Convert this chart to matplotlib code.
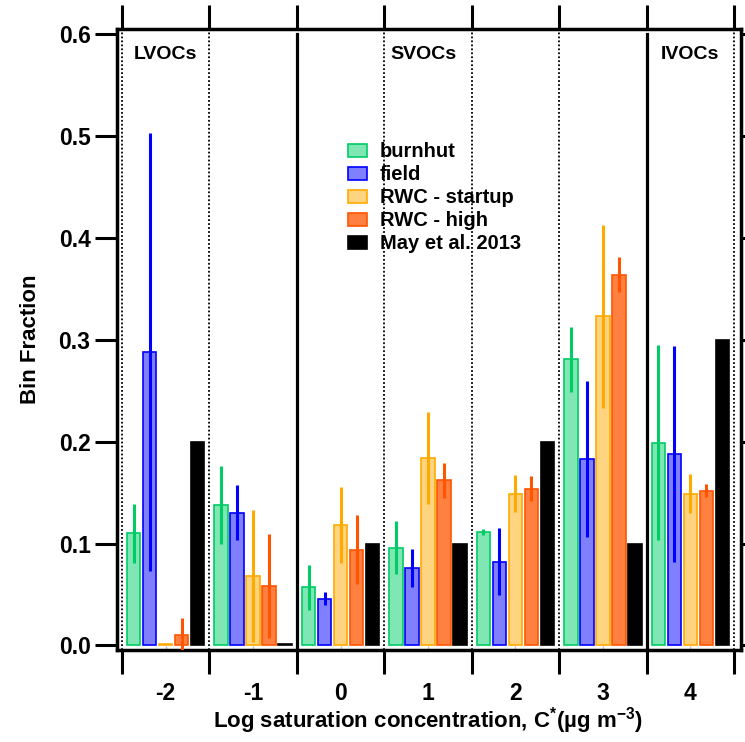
import numpy as np
import matplotlib
matplotlib.use("Agg")
import matplotlib.pyplot as plt
import matplotlib.ticker as mticker
from matplotlib import rcParams

rcParams["font.family"] = ["Liberation Sans", "DejaVu Sans"]
rcParams["font.weight"] = "bold"
rcParams["mathtext.fontset"] = "custom"
rcParams["mathtext.rm"] = "Liberation Sans:bold"
rcParams["mathtext.it"] = "Liberation Sans:bold"
rcParams["mathtext.default"] = "rm"

# ── Volatility bins and bin fractions ───────────────────────────────────────
bins = ["-2", "-1", "0", "1", "2", "3", "4"]
series = ["burnhut", "field", "RWC - startup", "RWC - high", "May et al. 2013"]

burnhut = [0.110, 0.138, 0.057, 0.096, 0.111, 0.281, 0.199]
burnhut_err = [0.029, 0.038, 0.022, 0.026, 0.003, 0.032, 0.096]
field = [0.288, 0.130, 0.046, 0.076, 0.082, 0.183, 0.188]
field_err = [0.215, 0.027, 0.006, 0.019, 0.033, 0.077, 0.106]
rwc_startup = [0.001, 0.068, 0.118, 0.184, 0.149, 0.323, 0.149]
rwc_startup_err = [0.0, 0.065, 0.037, 0.045, 0.018, 0.090, 0.019]
rwc_high = [0.010, 0.058, 0.094, 0.162, 0.154, 0.364, 0.152]
rwc_high_err = [0.017, 0.051, 0.034, 0.017, 0.012, 0.017, 0.006]
may2013 = [0.200, 0.001, 0.100, 0.100, 0.200, 0.100, 0.300]

values = [burnhut, field, rwc_startup, rwc_high, may2013]
errors = [burnhut_err, field_err, rwc_startup_err, rwc_high_err, None]

edge_colors = ["#00cc66", "#0000ff", "#ffaa00", "#ff5500", "#000000"]
face_colors = ["#80e6b3", "#8080ff", "#ffd480", "#ff8040", "#000000"]

# ── Figure ───────────────────────────────────────────────────────────────────
fig = plt.figure(figsize=(7.45, 7.42), dpi=100)
ax = fig.add_axes([0.157, 0.124, 0.8376, 0.8365])

x = np.arange(len(bins))
step = 0.183
bar_w = 0.153
for i, (vals, errs) in enumerate(zip(values, errors)):
    xpos = x + (i - 2) * step
    ax.bar(xpos, vals, bar_w, color=face_colors[i], edgecolor=edge_colors[i],
           linewidth=1.2, label=series[i], zorder=2)
    if errs is not None:
        ax.errorbar(xpos, vals, yerr=errs, fmt="none", ecolor=edge_colors[i],
                    elinewidth=2.2, capsize=0, zorder=3)

# bin separators: solid between volatility classes, dotted otherwise
for b in np.arange(-0.5, len(bins)):
    if b in (1.5, 5.5):
        ax.axvline(b, color="black", lw=2.3, ymin=0.0, ymax=0.993, zorder=1)
    else:
        ax.axvline(b, color="black", lw=1.3, ls=(0, (1, 1.2)), zorder=1)

ax.text(-0.37, 0.58, "LVOCs", fontsize=14, fontweight="bold", va="center", ha="left")
ax.text(2.57, 0.58, "SVOCs", fontsize=14, fontweight="bold", va="center", ha="left")
ax.text(5.66, 0.58, "IVOCs", fontsize=14, fontweight="bold", va="center", ha="left")

ax.set_xlim(-0.557, 6.58)
ax.set_ylim(-0.0045, 0.6047)

ax.yaxis.set_major_locator(mticker.MultipleLocator(0.1))
ax.yaxis.set_major_formatter(mticker.FormatStrFormatter("%.1f"))
ax.set_xticks(np.arange(-0.5, len(bins)))
ax.set_xticklabels([])
ax.set_xticks(x, minor=True)
ax.set_xticklabels(bins, minor=True)

for s in ax.spines.values():
    s.set_linewidth(2.5)
ax.tick_params(axis="y", which="major", direction="out", length=16, width=2.2,
               labelsize=16.5, pad=3, left=True, right=True)
ax.tick_params(axis="x", which="major", direction="out", length=17, width=2.2,
               top=True, bottom=True)
ax.tick_params(axis="x", which="minor", direction="in", length=3, width=1,
               color="#c0c0c0", labelsize=16.5, pad=23)

ax.set_ylabel("Bin Fraction", fontsize=16, fontweight="bold")
ax.yaxis.set_label_coords(-0.122, 0.5)
ax.set_xlabel(r"Log saturation concentration, C$^{*}$(µg m$^{-3}$)",
              fontsize=16, fontweight="bold")
ax.xaxis.set_label_coords(0.4976, -0.089)

ax.legend(loc="upper left", bbox_to_anchor=(0.37, 0.818), frameon=False,
          fontsize=14.5, borderpad=0, borderaxespad=0, handlelength=0.93,
          handleheight=0.62, handletextpad=0.65, labelspacing=0.2)

fig.savefig("out.png", dpi=100)
